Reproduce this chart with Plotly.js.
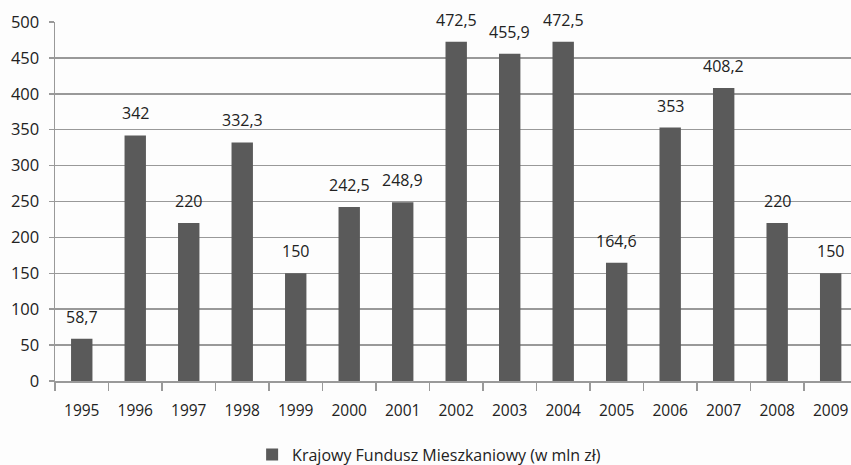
<!DOCTYPE html>
<html><head><meta charset="utf-8">
<script src="https://cdn.plot.ly/plotly-3.0.1.min.js"></script>
<style>html,body{margin:0;padding:0;background:#fdfdfd;}#chart{width:851px;height:465px;}</style>
</head><body><div id="chart"></div>
<script>
const years = ['1995','1996','1997','1998','1999','2000','2001','2002','2003','2004','2005','2006','2007','2008','2009'];
const values = [58.7,342,220,332.3,150,242.5,248.9,472.5,455.9,472.5,164.6,353,408.2,220,150];
const labels = ['58,7','342','220','332,3','150','242,5','248,9','472,5','455,9','472,5','164,6','353','408,2','220','150'];
const seriesName = 'Krajowy Fundusz Mieszkaniowy (w mln zł)';
const font = 'Open Sans, Lato, sans-serif';
const annotations = years.map((yr, i) => ({
  x: i, y: values[i], text: labels[i], showarrow:false, yanchor:'bottom', yshift:9,
  font:{family:font, size:16, color:'#222'}
}));
Plotly.newPlot('chart', [{
  type:'bar', x: years, y: values, name: seriesName,
  marker:{color:'#5a5a5a'}, width:0.4, showlegend:true
}], {
  width:851, height:465,
  paper_bgcolor:'#fdfdfd', plot_bgcolor:'#fdfdfd',
  margin:{l:55,r:0,t:22,b:84,autoexpand:false},
  font:{family:font,size:13,color:'#222'},
  annotations: annotations,
  xaxis:{type:'category', range:[-0.5,14.38], showline:true, linecolor:'#999', linewidth:1.5,
    ticks:'outside', tickson:'boundaries', ticklen:8, tickcolor:'#999', tickwidth:1.5,
    showgrid:false, tickfont:{size:15.5}, ticklabelstandoff:15, automargin:false},
  yaxis:{range:[0,500], dtick:50, showline:true, linecolor:'#999', linewidth:1.5,
    gridcolor:'#999', gridwidth:1.5, ticks:'outside', ticklen:5, tickcolor:'#999', tickwidth:1.5,
    zeroline:false, tickfont:{size:16.5}, ticklabelstandoff:6, automargin:false},
  showlegend:true,
  legend:{orientation:'h', x:0.47, xanchor:'center', y:-0.205, yanchor:'middle', font:{size:16}, bgcolor:'rgba(0,0,0,0)'},
  bargap:0.6
}, {staticPlot:true});
</script></body></html>
